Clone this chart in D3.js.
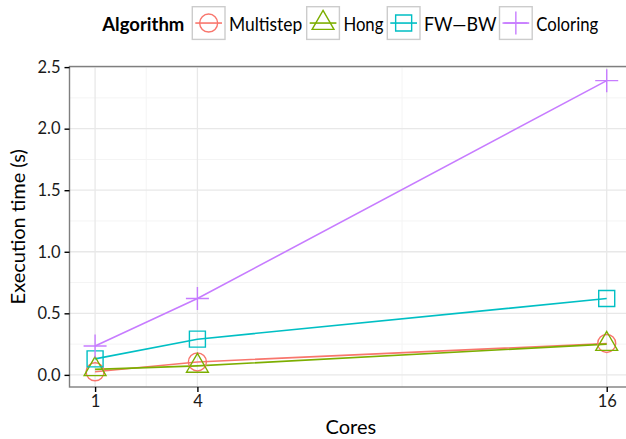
<!DOCTYPE html>
<html>
<head>
<meta charset="utf-8">
<script src="https://cdn.jsdelivr.net/npm/d3@7"></script>
<style>
  html, body { margin: 0; padding: 0; background: #fff; }
  svg { display: block; font-family: Lato, "Open Sans", sans-serif; }
</style>
</head>
<body>
<svg id="chart" width="626" height="439"></svg>
<script>
// Execution time (s) by number of cores for each SCC algorithm
const cores = [1, 4, 16];
const algorithms = ["Multistep", "Hong", "FW\u2014BW", "Coloring"];
const multistep = [0.025, 0.105, 0.255];
const hong = [0.045, 0.073, 0.25];
const fwbw = [0.13, 0.29, 0.62];
const coloring = [0.235, 0.62, 2.39];
const yTicks = [0, 0.5, 1.0, 1.5, 2.0, 2.5];
const yMinor = [0.25, 0.75, 1.25, 1.75, 2.25];
const xMinor = [2.5, 10];

const colors = ["#F8766D", "#7CAE00", "#00BFC4", "#C77CFF"];
const shapes = ["circle", "triangle", "square", "plus"];
const seriesValues = [multistep, hong, fwbw, coloring];
const series = algorithms.map((name, i) => ({
  name, color: colors[i], shape: shapes[i],
  points: cores.map((c, j) => ({ x: c, y: seriesValues[i][j] }))
}));

const svg = d3.select("#chart");
const panel = { left: 69.5, right: 632.3, top: 66.5, bottom: 387 };

const x = d3.scaleLinear().domain([0.25, 16.75]).range([panel.left, panel.right]);
const y = d3.scaleLinear().domain([-0.0985, 2.505]).range([panel.bottom, panel.top]);

// panel background and grid
svg.append("rect")
  .attr("x", panel.left).attr("y", panel.top)
  .attr("width", panel.right - panel.left).attr("height", panel.bottom - panel.top)
  .attr("fill", "#fff");

const grid = svg.append("g");
grid.selectAll("line.ymin").data(yMinor).join("line")
  .attr("x1", panel.left).attr("x2", panel.right)
  .attr("y1", d => y(d)).attr("y2", d => y(d))
  .attr("stroke", "#f4f4f4").attr("stroke-width", 1);
grid.selectAll("line.xmin").data(xMinor).join("line")
  .attr("y1", panel.top).attr("y2", panel.bottom)
  .attr("x1", d => x(d)).attr("x2", d => x(d))
  .attr("stroke", "#f4f4f4").attr("stroke-width", 1);
grid.selectAll("line.ymaj").data(yTicks).join("line")
  .attr("x1", panel.left).attr("x2", panel.right)
  .attr("y1", d => y(d)).attr("y2", d => y(d))
  .attr("stroke", "#e8e8e8").attr("stroke-width", 1.3);
grid.selectAll("line.xmaj").data(cores).join("line")
  .attr("y1", panel.top).attr("y2", panel.bottom)
  .attr("x1", d => x(d)).attr("x2", d => x(d))
  .attr("stroke", "#e8e8e8").attr("stroke-width", 1.3);

// symbol paths centred on (0,0)
function shapePath(shape) {
  switch (shape) {
    case "circle": {
      const r = 9;
      return `M${-r},0A${r},${r} 0 1,0 ${r},0A${r},${r} 0 1,0 ${-r},0Z`;
    }
    case "triangle": {
      const xc = 8.1, top = 1.5551 * xc, half = 1.3468 * xc, base = 0.7776 * xc;
      return `M0,${-top}L${half},${base}L${-half},${base}Z`;
    }
    case "square": {
      const h = 8;
      return `M${-h},${-h}H${h}V${h}H${-h}Z`;
    }
    case "plus": {
      const h = 11.5;
      return `M${-h},0H${h}M0,${-h}V${h}`;
    }
  }
}

// lines
const line = d3.line().x(d => x(d.x)).y(d => y(d.y));
svg.append("g").selectAll("path").data(series).join("path")
  .attr("d", d => line(d.points))
  .attr("fill", "none")
  .attr("stroke", d => d.color)
  .attr("stroke-width", 1.6);

// points
const pts = svg.append("g");
series.forEach(s => {
  pts.selectAll(null).data(s.points).join("path")
    .attr("transform", d => `translate(${x(d.x)},${y(d.y)})`)
    .attr("d", shapePath(s.shape))
    .attr("fill", "none")
    .attr("stroke", s.color)
    .attr("stroke-width", 1.4);
});

// panel border
svg.append("rect")
  .attr("x", panel.left).attr("y", panel.top)
  .attr("width", panel.right - panel.left).attr("height", panel.bottom - panel.top)
  .attr("fill", "none").attr("stroke", "#7f7f7f").attr("stroke-width", 1.4);

// axes
const yAxis = d3.axisLeft(y).tickValues(yTicks).tickFormat(d3.format(".1f"))
  .tickSize(5).tickPadding(4);
const gy = svg.append("g").attr("transform", `translate(${panel.left},0)`).call(yAxis);
const xAxis = d3.axisBottom(x).tickValues(cores).tickFormat(d3.format("d"))
  .tickSize(5).tickPadding(3);
const gx = svg.append("g").attr("transform", `translate(0,${panel.bottom})`).call(xAxis);
[gy, gx].forEach(g => {
  g.select(".domain").remove();
  g.selectAll(".tick line").attr("stroke", "#000").attr("stroke-width", 1.4);
  g.selectAll(".tick text").attr("fill", "#1a1a1a")
    .style("font-size", "16.5px").style("font-family", "Lato, sans-serif");
});

// axis titles
svg.append("text")
  .attr("x", (panel.left + panel.right) / 2).attr("y", 434)
  .attr("text-anchor", "middle")
  .style("font-size", "20px").attr("fill", "#000")
  .text("Cores");
svg.append("text")
  .attr("transform", `translate(25,${(panel.top + panel.bottom) / 2}) rotate(-90)`)
  .attr("text-anchor", "middle")
  .style("font-size", "20px").attr("fill", "#000")
  .text("Execution time (s)");

// legend
const legend = svg.append("g");
legend.append("text")
  .attr("x", 102.3).attr("y", 31)
  .style("font-size", "19px").style("font-weight", "bold").attr("fill", "#000")
  .attr("textLength", 82).attr("lengthAdjust", "spacingAndGlyphs")
  .text("Algorithm");
const keyX = [192.3, 306.7, 387.3, 499.5];
const labelWidths = [73.3, 40, 72.5, 62];
const keySize = 32.7;
series.forEach((s, i) => {
  const g = legend.append("g").attr("transform", `translate(${keyX[i]},6.7)`);
  g.append("rect").attr("x", 0).attr("y", 0).attr("width", keySize).attr("height", keySize)
    .attr("fill", "#fff").attr("stroke", "#cccccc").attr("stroke-width", 1.4);
  g.append("line").attr("x1", 3).attr("x2", keySize - 3)
    .attr("y1", keySize / 2).attr("y2", keySize / 2)
    .attr("stroke", s.color).attr("stroke-width", 1.6);
  g.append("path").attr("transform", `translate(${keySize / 2},${keySize / 2})`)
    .attr("d", shapePath(s.shape))
    .attr("fill", "none").attr("stroke", s.color).attr("stroke-width", 1.4);
  g.append("text").attr("x", 36.7).attr("y", 24.3)
    .style("font-size", "20px").attr("fill", "#000")
    .attr("textLength", labelWidths[i]).attr("lengthAdjust", "spacingAndGlyphs")
    .text(s.name);
});
</script>
</body>
</html>
